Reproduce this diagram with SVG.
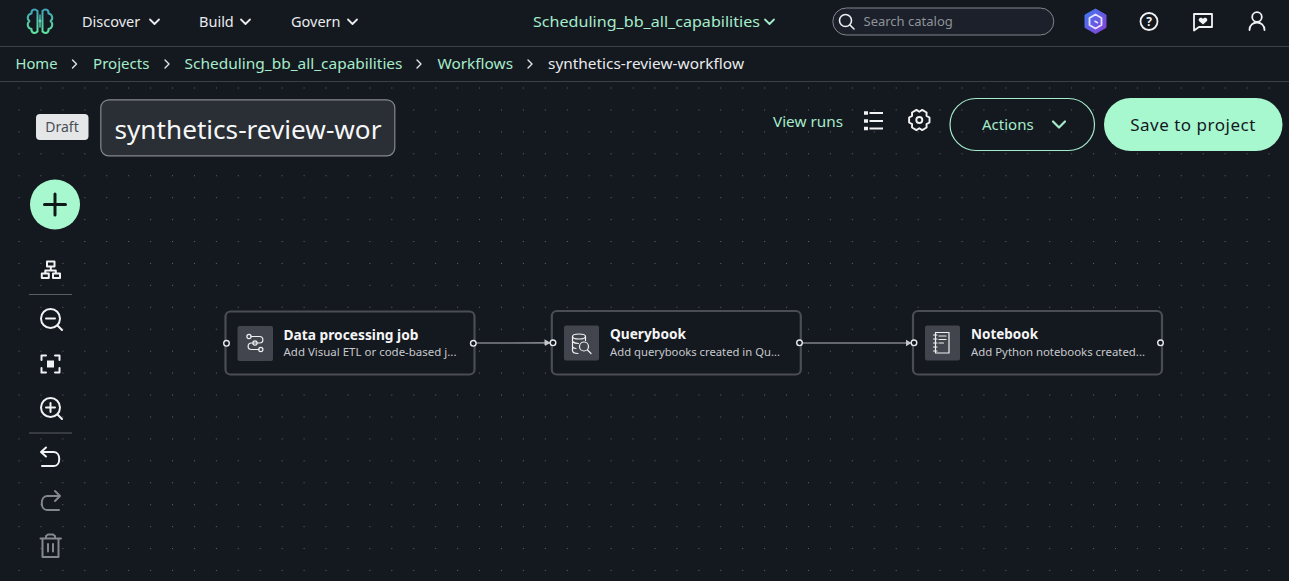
<svg xmlns="http://www.w3.org/2000/svg" width="1289" height="581" viewBox="0 0 1289 581">
<defs>
<pattern id="dots" x="18.5" y="87.5" width="21.93" height="21.93" patternUnits="userSpaceOnUse"><rect width="1" height="1" fill="#5f646b"/></pattern>
<marker id="arrow" markerWidth="7" markerHeight="8" refX="6" refY="4" orient="auto" markerUnits="userSpaceOnUse"><path d="M0,0.5 L6,4 L0,7.5 Z" fill="#c4c6ca"/></marker>
<linearGradient id="logo" gradientUnits="userSpaceOnUse" x1="40" y1="8" x2="40" y2="34"><stop offset="0" stop-color="#3f9fb8"/><stop offset="1" stop-color="#62e6a0"/></linearGradient>
<linearGradient id="hex" x1="0" y1="0" x2="1" y2="1"><stop offset="0" stop-color="#3d7bf0"/><stop offset="1" stop-color="#8a3fd6"/></linearGradient>
</defs>
<style>
text{font-family:"Noto Sans","Open Sans","Liberation Sans",sans-serif}
.nav{font-size:14.5px;fill:#e9ebed}
.crumb{font-size:14.5px;fill:#a6eccb}
.title{font-size:14px;font-weight:700;fill:#f4f5f6}
.sub{font-size:11px;fill:#c6c8cc}
.node{fill:#14181f;stroke:#4a4d55;stroke-width:2.2}
.tile{fill:#42454d}
.port{fill:#14181f;stroke:#e8e9eb;stroke-width:1.4}
.ic{fill:none;stroke:#f1f2f3;stroke-width:2;stroke-linecap:round;stroke-linejoin:round}
.ic1{fill:none;stroke:#eef0f1;stroke-width:1.2;stroke-linecap:round;stroke-linejoin:round}
.dim{fill:none;stroke:#84878c;stroke-width:2;stroke-linecap:round;stroke-linejoin:round}
.chev{fill:none;stroke:#e9ebed;stroke-width:1.8;stroke-linecap:round;stroke-linejoin:round}
.chevg{fill:none;stroke:#a6eccb;stroke-width:1.8;stroke-linecap:round;stroke-linejoin:round}
.sep{fill:none;stroke:#e2e4e6;stroke-width:1.4;stroke-linecap:round;stroke-linejoin:round}
.conn{fill:none;stroke:#b4b6bb;stroke-width:1.2}
</style>
<rect width="1289" height="581" fill="#14181f"/>
<rect x="0" y="82" width="1289" height="499" fill="url(#dots)"/>
<g id="top-nav">
<path d="M0,46.500H1289M0,81.500H1289" stroke="#3c4047" stroke-width="1" fill="none"/>
<g id="logo" fill="none" stroke="url(#logo)" stroke-width="2" stroke-linecap="round" stroke-linejoin="round">
<path d="M37.500,11 C35,8.500 31,9.500 31.500,13.500 C27.500,14 26.500,19 29.500,21 C26.500,23.500 27.500,28.500 31.500,29 C31,33 35,34 37.500,31.500 Z"/>
<path d="M42.500,11 C45,8.500 49,9.500 48.500,13.500 C52.500,14 53.500,19 50.500,21 C53.500,23.500 52.500,28.500 48.500,29 C49,33 45,34 42.500,31.500 Z"/>
<path d="M40,15V27" stroke-width="1.500"/><circle cx="40" cy="21" r="1.400" fill="#62d8a8" stroke="none"/>
</g>
<text class="nav" x="82" y="27">Discover</text><path class="chev" d="M150,19.500l4.500,4.500l4.500,-4.500"/>
<text class="nav" x="199" y="27">Build</text><path class="chev" d="M241,19.500l4.500,4.500l4.500,-4.500"/>
<text class="nav" x="291" y="27">Govern</text><path class="chev" d="M348,19.500l4.500,4.500l4.500,-4.500"/>
<text class="crumb" x="533" y="27" textLength="227" lengthAdjust="spacingAndGlyphs">Scheduling_bb_all_capabilities</text><path class="chevg" d="M765,19.500l4.500,4.500l4.500,-4.500"/>
<rect x="832.800" y="8" width="221" height="27" rx="13.500" fill="#1b202a" stroke="#83868b" stroke-width="1"/>
<circle cx="845.500" cy="20.500" r="6" fill="none" stroke="#eceef0" stroke-width="1.600"/><path d="M850,25l4,4" stroke="#eceef0" stroke-width="1.600" stroke-linecap="round"/>
<text x="863.500" y="26" font-size="13" fill="#8f939a">Search catalog</text>
<path d="M1095.500,9 L1106,15 V27.500 L1095.500,33.500 L1085,27.500 V15 Z" fill="url(#hex)" stroke="url(#hex)" stroke-width="1" stroke-linejoin="round"/>
<path d="M1095.500,14.500 L1101.500,18 V25 L1095.500,28.500 L1089.500,25 V18 Z" fill="none" stroke="#e8e4ff" stroke-width="1.800" stroke-linejoin="round"/><path d="M1094.500,21l3.500,2" stroke="#e8e4ff" stroke-width="1.500"/>
<circle cx="1149" cy="21.500" r="8.500" fill="none" stroke="#f1f2f3" stroke-width="1.800"/>
<text x="1149" y="26" font-size="12" font-weight="700" fill="#f1f2f3" text-anchor="middle">?</text>
<path d="M1194,14H1212V27H1199L1194,30.500Z" fill="none" stroke="#f1f2f3" stroke-width="1.800" stroke-linejoin="round"/>
<path d="M1203,24.500l-4,-3.500c-1.500,-2.500 2.500,-4.500 4,-2c1.500,-2.500 5.500,-.5 4,2Z" fill="#f1f2f3"/>
<circle cx="1257" cy="17" r="4.800" fill="none" stroke="#f1f2f3" stroke-width="1.800"/>
<path d="M1249.500,30c0,-10 15,-10 15,0" fill="none" stroke="#f1f2f3" stroke-width="1.800" stroke-linecap="round"/>
</g>
<g id="breadcrumbs">
<text class="crumb" x="15.500" y="69" textLength="42" lengthAdjust="spacingAndGlyphs">Home</text><path class="sep" d="M72.500,60l4,4l-4,4"/>
<text class="crumb" x="93" y="69" textLength="56.500" lengthAdjust="spacingAndGlyphs">Projects</text><path class="sep" d="M165,60l4,4l-4,4"/>
<text class="crumb" x="184.500" y="69" textLength="218" lengthAdjust="spacingAndGlyphs">Scheduling_bb_all_capabilities</text><path class="sep" d="M417,60l4,4l-4,4"/>
<text class="crumb" x="437.500" y="69" textLength="75.500" lengthAdjust="spacingAndGlyphs">Workflows</text><path class="sep" d="M528,60l4,4l-4,4"/>
<text x="548" y="69" font-size="14.500" fill="#e9ebed" textLength="196" lengthAdjust="spacingAndGlyphs">synthetics-review-workflow</text>
</g>
<g id="header-controls">
<rect x="36" y="114" width="52.500" height="26" rx="4" fill="#e4e6e8"/>
<text x="62" y="132" font-size="14" fill="#4a4e55" text-anchor="middle">Draft</text>
<rect x="100.800" y="99.800" width="294" height="56" rx="8" fill="#2a2e35" stroke="#85888d" stroke-width="1.200"/>
<text x="114.500" y="139" font-size="26" fill="#f6f7f8" textLength="267" lengthAdjust="spacingAndGlyphs">synthetics-review-wor</text>
<text x="773" y="127" font-size="15" fill="#a6eccb" textLength="70" lengthAdjust="spacingAndGlyphs">View runs</text>
<path d="M868,113h-4M868,121h-4M868,128.500h-4" stroke="#f1f2f3" stroke-width="3.400" fill="none"/>
<path d="M869.500,113h13.500M869.500,121h13.500M869.500,128.500h13.500" stroke="#f1f2f3" stroke-width="2" fill="none"/>
<path transform="translate(919.300,120)" d="M10.200,-2.500L10.200,2.500L7.200,4.150L7.300,7.550L2.900,10.100L0,8.300L-2.900,10.100L-7.300,7.550L-7.200,4.150L-10.200,2.500L-10.200,-2.500L-7.200,-4.150L-7.300,-7.550L-2.900,-10.100L0,-8.300L2.900,-10.100L7.300,-7.550L7.200,-4.150Z" fill="none" stroke="#f1f2f3" stroke-width="1.900" stroke-linejoin="round"/>
<circle cx="919.300" cy="120" r="3" fill="none" stroke="#f1f2f3" stroke-width="1.900"/>
<rect x="950" y="98.500" width="144.500" height="52" rx="26" fill="none" stroke="#a6eccb" stroke-width="1.200"/>
<text x="982" y="130" font-size="15" fill="#a6eccb">Actions</text>
<path d="M1053,121.500l6,6l6,-6" fill="none" stroke="#a6eccb" stroke-width="2.200" stroke-linecap="round" stroke-linejoin="round"/>
<rect x="1104" y="98" width="178.500" height="53" rx="26.500" fill="#a8f8cf"/>
<text x="1193" y="131" font-size="17" fill="#14181f" text-anchor="middle" letter-spacing=".5">Save to project</text>
</g>
<g id="toolbar">
<circle cx="55" cy="204.500" r="25" fill="#a8f8cf"/>
<path d="M55,194v21M44.500,204.500h21" stroke="#0f1a18" stroke-width="3" fill="none" stroke-linecap="round"/>
<path class="ic" d="M47,261.500h7.500v5h-7.500Z M41.800,273.500h7v4.500h-7Z M53,273.500h7v4.500h-7Z M50.800,266.500v4M45.300,273.500v-3h10.500v3" stroke-width="1.800"/>
<path d="M29,294.500H72" stroke="#5a5d64" stroke-width="1"/>
<circle cx="50.500" cy="318.500" r="9.500" class="ic"/><path class="ic" d="M46,318.500h9M57.500,325.500l4.500,4.500"/>
<path class="ic" stroke-linecap="butt" stroke-width="1.800" d="M41.500,360v-4.500h4.500M55,355.500h4.500v4.500M59.500,368v4.500H55M46,372.500h-4.500V368"/>
<rect x="47" y="360.500" width="7" height="7" fill="#f1f2f3"/>
<circle cx="50.500" cy="407.500" r="9.500" class="ic"/><path class="ic" d="M46,407.500h9M50.500,403v9M57.500,414.500l4.500,4.500"/>
<path d="M29,433H72" stroke="#5a5d64" stroke-width="1"/>
<path class="ic" d="M46,447.500l-5,4.500l5,4.500M41,452h13c7,0 7,14 0,14H42"/>
<path class="dim" d="M55,491l5,5l-5,5M60,496H47c-7,0 -7,14 0,14H59"/>
<path class="dim" d="M40.500,538.500H61M46,538.500v-2.500l2,-1.500h5l2,1.500v2.500M42.500,538.500V557H58.500V538.500M48,544v7.500M53,544v7.500"/>
</g>
<g id="connectors">
<path class="conn" d="M476,343H513L550.500,342.800" marker-end="url(#arrow)"/>
<path class="conn" d="M802,343H911.500" marker-end="url(#arrow)"/>
</g>
<g id="node-data-processing">
<rect class="node" x="225.500" y="311.500" width="249" height="63" rx="5"/>
<rect class="tile" x="237.500" y="326" width="35.500" height="35" rx="2"/>
<path class="ic1" stroke-width="1.400" d="M251,336.500h8.500c4.500,0 4.500,6.500 0,6.500h-8c-4.500,0 -4.500,6.500 0,6.500h7.500"/>
<circle cx="249" cy="336.500" r="2.100" class="ic1" fill="#42454d"/><circle cx="255" cy="343" r="2.100" class="ic1" fill="#42454d"/><circle cx="260.800" cy="349.500" r="2.100" class="ic1" fill="#42454d"/>
<text class="title" x="283.500" y="340" textLength="135" lengthAdjust="spacingAndGlyphs">Data processing job</text>
<text class="sub" x="283.500" y="356" textLength="173" lengthAdjust="spacingAndGlyphs">Add Visual ETL or code-based j...</text>
<circle class="port" cx="226.500" cy="343.300" r="2.800"/>
<circle class="port" cx="473.300" cy="343.300" r="2.800"/>
</g>
<g id="node-querybook">
<rect class="node" x="551.800" y="311" width="249" height="63.500" rx="5"/>
<rect class="tile" x="564" y="325.500" width="35" height="35" rx="2"/>
<ellipse cx="579" cy="336.500" rx="6.500" ry="2.500" class="ic1"/>
<path class="ic1" d="M572.500,336.500v14c0,2 2.500,3 5.500,3M585.500,336.500v4M572.500,341.500c1.500,1.500 4,2 6,2M572.500,347c1,1 2.500,1.500 3.500,1.500"/>
<circle cx="584" cy="346.500" r="4.500" class="ic1"/><path class="ic1" stroke-width="1.800" d="M587.500,350l3.500,3.500"/>
<text class="title" x="610" y="339" textLength="76" lengthAdjust="spacingAndGlyphs">Querybook</text>
<text class="sub" x="610" y="356" textLength="170" lengthAdjust="spacingAndGlyphs">Add querybooks created in Qu...</text>
<circle class="port" cx="553" cy="342.800" r="2.800"/>
<circle class="port" cx="799.500" cy="342.800" r="2.800"/>
</g>
<g id="node-notebook">
<rect class="node" x="913" y="311" width="249" height="63.500" rx="5"/>
<rect class="tile" x="925" y="325.500" width="35" height="35" rx="2"/>
<rect x="935.500" y="332.500" width="13.500" height="20.500" class="ic1"/>
<path class="ic1" d="M933.500,335h3.500M933.500,339h3.500M933.500,343h3.500M933.500,347h3.500M933.500,351h3.500M939,336h7M939,339.500h7M939,343h4.500"/>
<text class="title" x="971" y="339" textLength="67" lengthAdjust="spacingAndGlyphs">Notebook</text>
<text class="sub" x="971" y="356" textLength="174" lengthAdjust="spacingAndGlyphs">Add Python notebooks created...</text>
<circle class="port" cx="914" cy="342.800" r="2.800"/>
<circle class="port" cx="1160.500" cy="342.800" r="2.800"/>
</g>
</svg>
